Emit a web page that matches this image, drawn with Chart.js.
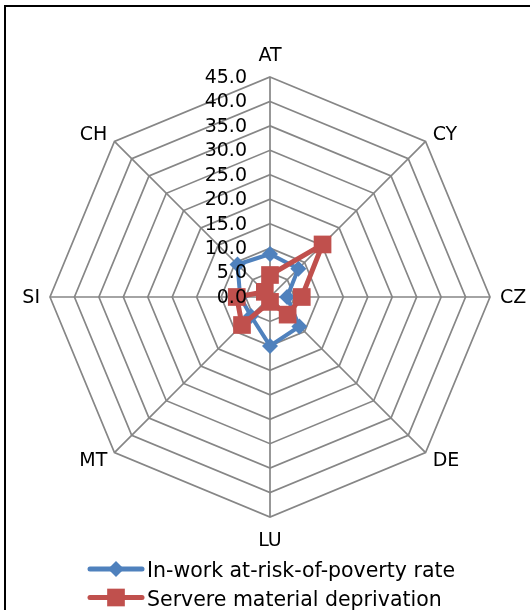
<!DOCTYPE html>
<html>
<head>
<meta charset="utf-8">
<script src="https://cdn.jsdelivr.net/npm/chart.js@4/dist/chart.umd.min.js"></script>
<style>
  html, body { margin: 0; padding: 0; background: #fff; }
</style>
</head>
<body>
<canvas id="chart" width="530" height="610"></canvas>
<script>
// Data
const countries = ['AT', 'CY', 'CZ', 'DE', 'LU', 'MT', 'SI', 'CH'];
const inWorkPoverty = [8.8, 8.2, 3.5, 8.5, 10.0, 5.5, 6.1, 9.4];
const materialDeprivation = [4.5, 15.2, 6.5, 5.1, 1.0, 8.1, 6.8, 1.5];
const seriesNames = ['In-work at-risk-of-poverty rate', 'Servere material deprivation'];
const tickValues = [0, 5, 10, 15, 20, 25, 30, 35, 40, 45];

const FONT = '"DejaVu Sans", sans-serif';
const BLUE = '#4F81BD';
const RED = '#C0504D';
const GRID = '#868686';

let canvas = document.getElementById('chart');
let context = canvas.getContext('2d');

// Labels, ticks, legend and frame drawn on top of the chart
const decorPlugin = {
  id: 'decor',
  afterDraw: (chart) => {
    const ctx = chart.ctx;
    const scale = chart.scales.r;
    ctx.save();

    // frame (cut at right and bottom like the original)
    ctx.fillStyle = '#000';
    ctx.fillRect(4, 5, 2, 605);
    ctx.fillRect(4, 5, 526, 2);

    // tick labels, right aligned left of the vertical axis
    ctx.font = '19px ' + FONT;
    ctx.textAlign = 'right';
    ctx.textBaseline = 'middle';
    tickValues.forEach(v => {
      let d = scale.getDistanceFromCenterForValue(v);
      ctx.fillText(v.toFixed(1), scale.xCenter - 23, scale.yCenter - d + 1);
    });

    // point labels
    countries.forEach((label, i) => {
      let p = scale.getPointPosition(i, scale.drawingArea + 10);
      let dx = p.x - scale.xCenter;
      let dy = p.y - scale.yCenter;
      let y = p.y + 1;
      if (Math.abs(dx) < 1) {
        ctx.textAlign = 'center';
        y = dy < 0 ? p.y - 11 : p.y + 14;
      } else {
        ctx.textAlign = dx > 0 ? 'left' : 'right';
      }
      ctx.fillText(label, p.x, y);
    });

    // legend: line with marker like in Excel
    ctx.font = '20.5px ' + FONT;
    ctx.textAlign = 'left';
    ctx.textBaseline = 'alphabetic';
    chart.data.datasets.forEach((ds, i) => {
      let y = 569 + i * 28.5;
      ctx.strokeStyle = ds.borderColor;
      ctx.lineWidth = 5;
      ctx.lineCap = 'round';
      ctx.beginPath();
      ctx.moveTo(90, y);
      ctx.lineTo(142, y);
      ctx.stroke();
      ctx.fillStyle = ds.pointBackgroundColor;
      Chart.helpers.drawPoint(ctx, {
        pointStyle: ds.pointStyle,
        radius: ds.pointStyle === 'rect' ? 12.5 : 8,
        borderWidth: 0,
        rotation: 0
      }, 116, y);
      ctx.fillStyle = '#000';
      ctx.fillText(ds.label, 147, y + 8);
    });

    ctx.restore();
  }
};

const createRadarChart = () => {
  let data = {
    labels: countries,
    datasets: [{
      label: seriesNames[0],
      data: inWorkPoverty,
      borderColor: BLUE,
      backgroundColor: BLUE,
      pointBackgroundColor: BLUE,
      pointStyle: 'rectRot',
      pointRadius: 8,
      pointBorderWidth: 0,
      borderWidth: 4,
      fill: false,
      tension: 0,
      order: 1
    }, {
      label: seriesNames[1],
      data: materialDeprivation,
      borderColor: RED,
      backgroundColor: RED,
      pointBackgroundColor: RED,
      pointStyle: 'rect',
      pointRadius: 12.5,
      pointBorderWidth: 0,
      borderWidth: 5,
      fill: false,
      tension: 0,
      order: 0
    }]
  };
  let config = {
    type: 'radar',
    data: data,
    options: {
      responsive: false,
      animation: false,
      layout: {
        padding: { left: 50, right: 39, top: 77, bottom: 92 }
      },
      scales: {
        r: {
          min: 0,
          max: 45,
          ticks: { stepSize: 5, display: false },
          pointLabels: { display: false },
          grid: { circular: false, color: GRID, lineWidth: 1.7 },
          angleLines: { color: GRID, lineWidth: 1.7 }
        }
      },
      plugins: {
        legend: { display: false },
        tooltip: { enabled: false }
      }
    },
    plugins: [decorPlugin]
  };
  return new Chart(context, config);
};

createRadarChart();
</script>
</body>
</html>
